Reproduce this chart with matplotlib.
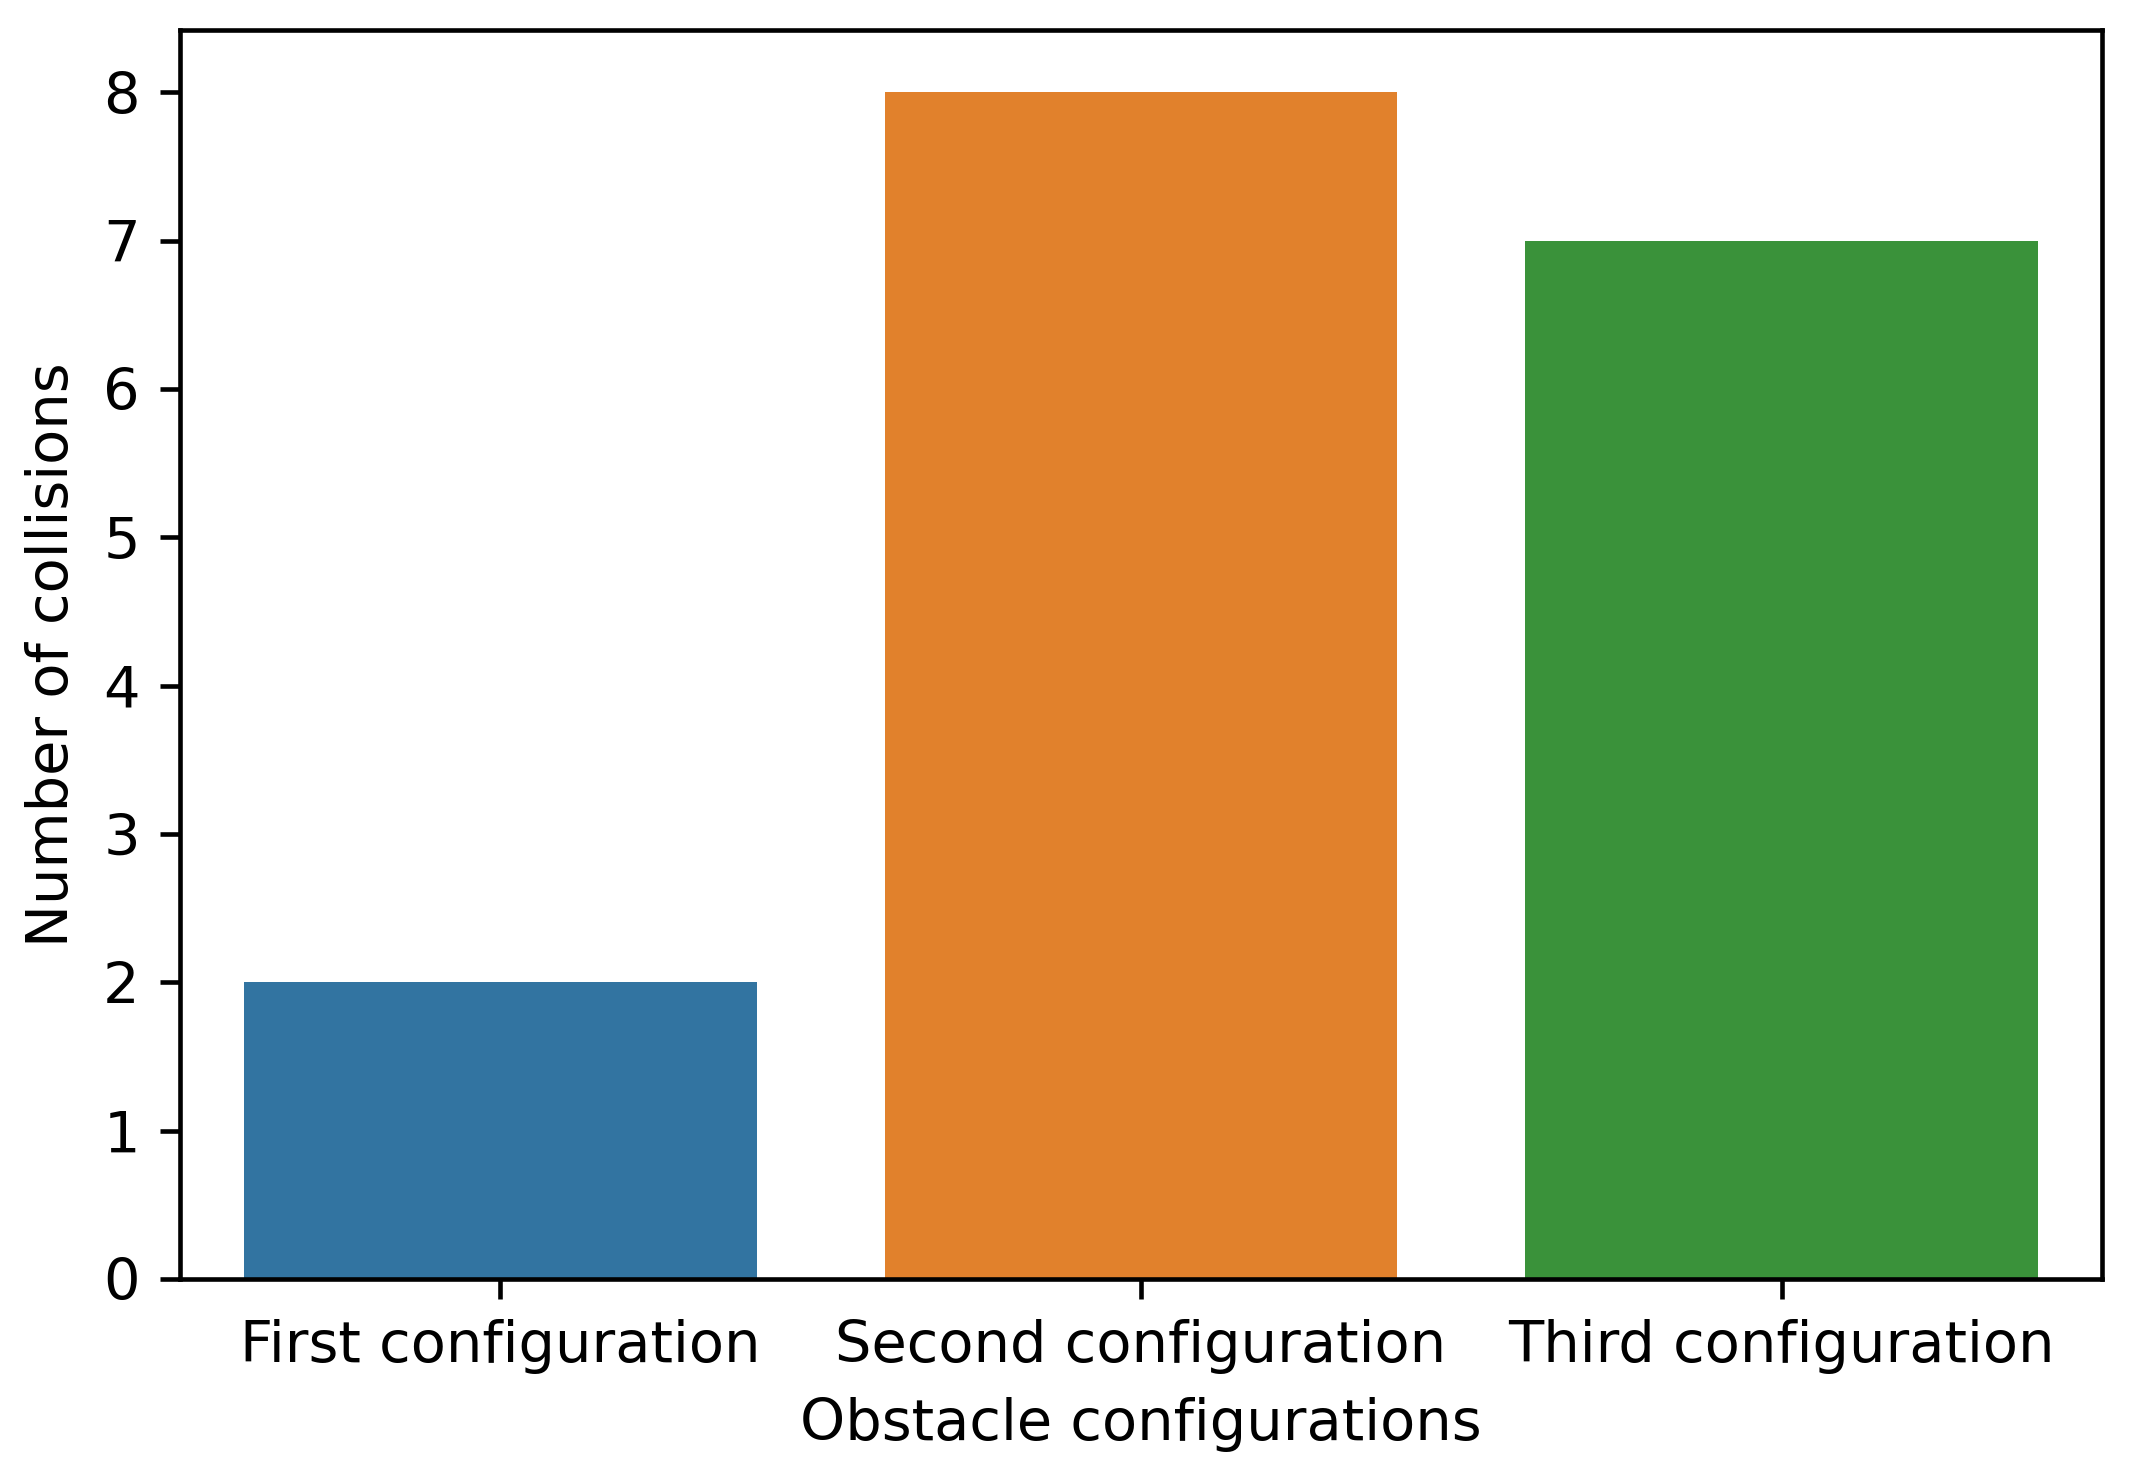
import matplotlib
matplotlib.use("Agg")
import matplotlib.pyplot as plt

categories = ["First configuration", "Second configuration", "Third configuration"]
collisions = [2, 8, 7]
colors = ["#3274a1", "#e1812c", "#3a923a"]
yticks = [0, 1, 2, 3, 4, 5, 6, 7, 8]

s = 1.38
plt.rcParams.update({
    "font.size": 10 * s,
    "axes.linewidth": 0.8 * s,
    "xtick.major.width": 0.8 * s,
    "ytick.major.width": 0.8 * s,
    "xtick.major.size": 3.5 * s,
    "ytick.major.size": 3.5 * s,
    "xtick.major.pad": 3.5 * s,
    "ytick.major.pad": 3.5 * s,
    "axes.labelpad": 4.0 * s,
})

W, H = 2129, 1473
dpi = 300
fig = plt.figure(figsize=(W / dpi, H / dpi), dpi=dpi)
left, right, top, bottom = 180, 2102, 30, 1279
ax = fig.add_axes([left / W, 1 - bottom / H, (right - left) / W, (bottom - top) / H])

x = range(len(categories))
ax.bar(x, collisions, width=0.8, color=colors)
ax.set_xticks(list(x))
ax.set_xticklabels(categories)
ax.set_yticks(yticks)
ax.set_xlim(-0.5, len(categories) - 0.5)
ax.set_ylim(0, 8.42)
ax.set_xlabel("Obstacle configurations")
ax.set_ylabel("Number of collisions")

fig.savefig("out.png", dpi=dpi)
